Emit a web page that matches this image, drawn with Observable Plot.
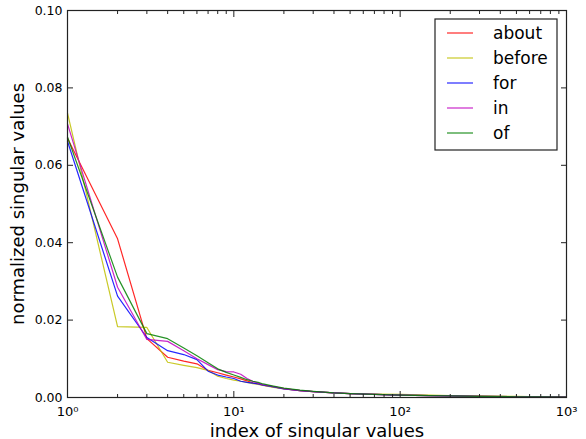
<!DOCTYPE html>
<html>
<head>
<meta charset="utf-8">
<script src="https://cdn.jsdelivr.net/npm/d3@7"></script>
<script src="https://cdn.jsdelivr.net/npm/@observablehq/plot@0.6"></script>
<style>
  html, body { margin: 0; padding: 0; background: #fff; }
  #chart { position: relative; width: 586px; height: 439px; }
</style>
</head>
<body>
<div id="chart"></div>
<script>
const idx =    [1,      2,      3,      4,      5,      6,      7,      8,      9,      10,     11,     12,     13,     14,     15,     17,     20,     25,     30,     40,     50,     70,     100,    150,    200,    300,    500,    700,     1000];
const about =  [0.0670, 0.0410, 0.0152, 0.0104, 0.0094, 0.0087, 0.0070, 0.0064, 0.0058, 0.0053, 0.0048, 0.0043, 0.0038, 0.0035, 0.0032, 0.0028, 0.0023, 0.0018, 0.0015, 0.0012, 0.0010, 0.0008, 0.0006, 0.0005, 0.0004, 0.0003, 0.0002, 0.00018, 0.00015];
const before = [0.0735, 0.0183, 0.0181, 0.0091, 0.0083, 0.0077, 0.0070, 0.0055, 0.0049, 0.0045, 0.0042, 0.0039, 0.0036, 0.0034, 0.0031, 0.0027, 0.0022, 0.0018, 0.0015, 0.0012, 0.0010, 0.0009, 0.0008, 0.0006, 0.0005, 0.0004, 0.0003, 0.0002,  0.0001];
const forV =   [0.0662, 0.0262, 0.0155, 0.0121, 0.0111, 0.0098, 0.0068, 0.0058, 0.0053, 0.0049, 0.0042, 0.0039, 0.0037, 0.0035, 0.0032, 0.0028, 0.0022, 0.0018, 0.0015, 0.0012, 0.0010, 0.0008, 0.0006, 0.0005, 0.0004, 0.0003, 0.0002, 0.00015, 0.0001];
const inV =    [0.0707, 0.0285, 0.0150, 0.0145, 0.0121, 0.0100, 0.0085, 0.0072, 0.0067, 0.0066, 0.0060, 0.0049, 0.0042, 0.0037, 0.0033, 0.0029, 0.0023, 0.0018, 0.0015, 0.0012, 0.0010, 0.0008, 0.0006, 0.0005, 0.0004, 0.0003, 0.0002, 0.00015, 0.0001];
const ofV =    [0.0673, 0.0311, 0.0165, 0.0152, 0.0128, 0.0108, 0.0090, 0.0074, 0.0065, 0.0058, 0.0052, 0.0046, 0.0042, 0.0039, 0.0035, 0.0030, 0.0024, 0.0019, 0.0016, 0.0012, 0.0010, 0.0008, 0.0006, 0.0005, 0.0004, 0.0003, 0.0002, 0.00016, 0.00013];

const seriesNames = ["about", "before", "for", "in", "of"];
const seriesValues = [about, before, forV, inV, ofV];
const seriesColors = ["#ff0000", "#bfbf00", "#0000ff", "#bf00bf", "#008000"];

const xMajor = [1, 10, 100, 1000];
const xMajorLabels = ["10\u2070", "10\u00b9", "10\u00b2", "10\u00b3"];
const xMinor = [2,3,4,5,6,7,8,9,20,30,40,50,60,70,80,90,200,300,400,500,600,700,800,900];
const yTicks = [0, 0.02, 0.04, 0.06, 0.08, 0.10];

const rows = seriesNames.flatMap((name, s) =>
  idx.map((x, i) => ({series: name, x, y: seriesValues[s][i]})));

const fmtX = d => xMajorLabels[xMajor.indexOf(d)];

const chart = Plot.plot({
  width: 586,
  height: 439,
  marginLeft: 67,
  marginRight: 20,
  marginTop: 10,
  marginBottom: 42,
  style: {fontFamily: "DejaVu Sans", background: "#fff", color: "#000"},
  x: {type: "log", domain: [1, 1000]},
  y: {domain: [0, 0.1]},
  color: {domain: seriesNames, range: seriesColors},
  marks: [
    Plot.line(rows, {x: "x", y: "y", z: "series", stroke: "series", strokeWidth: 1.2, strokeOpacity: 0.85}),
    Plot.frame({stroke: "#222", strokeWidth: 1.2}),
    Plot.axisX({ticks: xMajor, tickSize: -6, text: null, label: null, stroke: "#222"}),
    Plot.axisX({ticks: xMinor, tickSize: -3, text: null, label: null, stroke: "#222"}),
    Plot.axisX({anchor: "top", ticks: xMajor, tickSize: -6, text: null, label: null, stroke: "#222"}),
    Plot.axisX({anchor: "top", ticks: xMinor, tickSize: -3, text: null, label: null, stroke: "#222"}),
    Plot.axisX({ticks: xMajor, tickSize: 0, tickPadding: 9, tickFormat: fmtX, fontSize: 13, label: null}),
    Plot.axisY({ticks: yTicks, tickSize: -6, text: null, label: null, stroke: "#222"}),
    Plot.axisY({anchor: "right", ticks: yTicks, tickSize: -6, text: null, label: null, stroke: "#222"}),
    Plot.axisY({ticks: yTicks, tickSize: 0, tickPadding: 5, tickFormat: d3.format(".2f"), fontSize: 12.5, label: null}),
    Plot.text(["index of singular values"], {frameAnchor: "bottom", dy: 34, text: d => d, fontSize: 18, lineAnchor: "middle", textAnchor: "middle"}),
    Plot.text(["normalized singular values"], {frameAnchor: "left", dx: -49, rotate: -90, text: d => d, fontSize: 18, lineAnchor: "middle", textAnchor: "middle"})
  ]
});

document.getElementById("chart").appendChild(chart);

// legend (upper right, matplotlib style)
const svg = d3.select(chart);
const lg = svg.append("g").attr("font-family", "DejaVu Sans").attr("font-size", 17).attr("text-anchor", "start");
lg.append("rect").attr("x", 435).attr("y", 19).attr("width", 122).attr("height", 131)
  .attr("fill", "#fff").attr("stroke", "#222").attr("stroke-width", 1.2);
seriesNames.forEach((name, i) => {
  const cy = 33 + i * 25;
  lg.append("line").attr("x1", 447).attr("x2", 473).attr("y1", cy).attr("y2", cy)
    .attr("stroke", seriesColors[i]).attr("stroke-opacity", 0.85).attr("stroke-width", 1.2);
  lg.append("text").attr("x", 493).attr("y", cy).attr("dy", "0.35em").attr("fill", "#000").text(name);
});
</script>
</body>
</html>
